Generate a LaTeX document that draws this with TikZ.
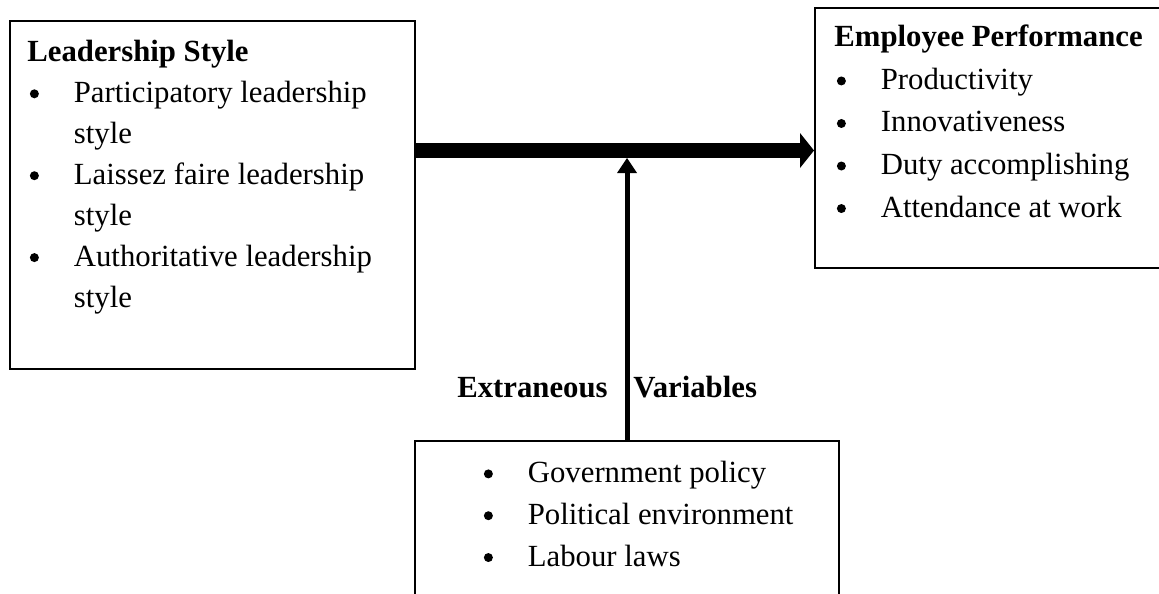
\documentclass[tikz,border=0pt]{standalone}
\usepackage{fontspec}
\setmainfont{Liberation Serif}
\usepackage{tikz}
\usetikzlibrary{
    positioning,
    arrows.meta,
    calc
}

% bullet with hanging indent, and the indent alone for wrapped lines
\newcommand{\itm}{\makebox[0.93cm][l]{\hspace{0.05cm}\tikz[baseline=-0.17cm]\fill (0,0) circle (0.09cm);}}
\newcommand{\cnt}{\hspace*{0.93cm}}

\begin{document}
\begin{tikzpicture}[font=\fontsize{17.5}{23.8}\selectfont,
    box/.style={draw, line width=1.1pt, inner sep=0pt},
    list/.style={align=left, inner sep=0pt, anchor=base west},
    lab/.style={font=\fontsize{17.5}{23.8}\selectfont\bfseries, inner sep=0pt},
    bigarr/.style={-{Triangle[width=0.7cm, length=0.28cm, line width=0pt]}, line width=0.3cm},
    arr/.style={-{Triangle[width=0.4cm, length=0.3cm, line width=0pt]}, line width=0.1cm}]

    \useasboundingbox (0,0) rectangle (23.18,-11.86);
    \clip (0,0) rectangle (23.18,-11.86);

    % ============ BOXES ============
    \node[box, minimum width=8.1cm, minimum height=6.96cm] (LS) at (4.25,-3.9) {};
    \node[box, minimum width=7.1cm, minimum height=5.2cm] (EP) at (19.85,-2.76) {};
    \node[box, minimum width=8.48cm, minimum height=3.98cm] (EV) at (12.54,-10.81) {};

    % ============ LISTS ============
    % (base anchor sits on the last line)
    \node[list, font=\fontsize{17.5}{23.3}\selectfont] (LSt) at ([xshift=0.36cm, yshift=-5.74cm]LS.north west)
      {\textbf{Leadership Style}\\
       \itm Participatory leadership\\
       \cnt style\\
       \itm Laissez faire leadership\\
       \cnt style\\
       \itm Authoritative leadership\\
       \cnt style};
    \node[list, font=\fontsize{17.5}{24.2}\selectfont] (EPt) at ([xshift=0.4cm, yshift=-4.2cm]EP.north west)
      {\textbf{Employee Performance}\\
       \itm Productivity\\
       \itm Innovativeness\\
       \itm Duty accomplishing\\
       \itm Attendance at work};
    \node[list] (EVt) at ([xshift=1.34cm, yshift=-2.52cm]EV.north west)
      {\itm Government policy\\
       \itm Political environment\\
       \itm Labour laws};

    % ============ ARROWS ============
    \coordinate (A) at (0,-3.01);
    \draw[bigarr] (LS.east |- A) -- (EP.west |- A);
    \draw[arr] (EV.north) -- ([yshift=-0.15cm]EV.north |- A);

    \node[lab, anchor=base east] (ex) at (12.16,-7.94) {Extraneous};
    \node[lab, anchor=base west] (va) at (12.66,-7.94) {Variables};

\end{tikzpicture}
\end{document}
